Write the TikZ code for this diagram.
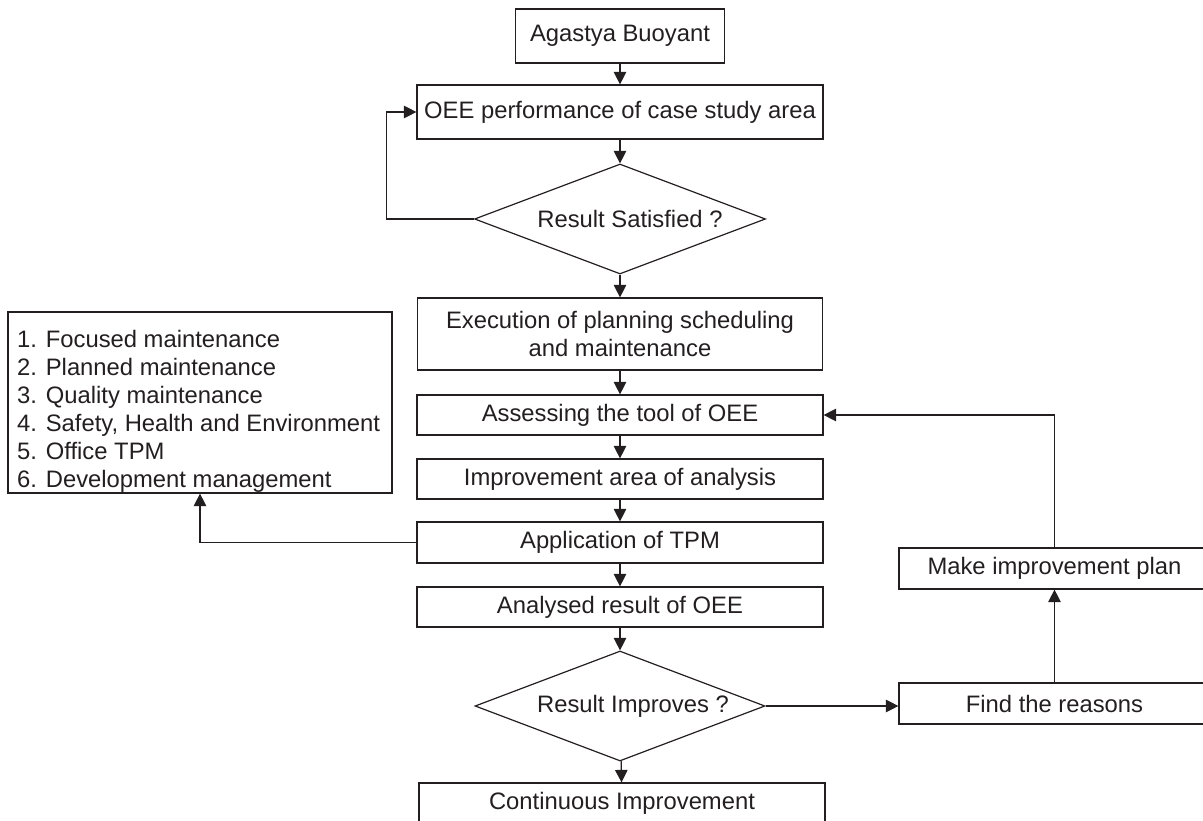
\documentclass[tikz,border=0pt]{standalone}
\usepackage{fontspec}
\setmainfont{Liberation Sans}
\usetikzlibrary{arrows.meta,shapes.geometric}
\definecolor{ink}{HTML}{231F20}
\tikzset{
  lbl/.style={font=\fontsize{23.8}{28}\selectfont, text=ink},
  box/.style={lbl, draw=ink, line width=1.2pt, rectangle, inner sep=0pt, align=center},
  decision/.style={draw=ink, line width=1.2pt, diamond, aspect=2.64, inner sep=0pt},
  arr/.style={draw=ink, line width=1.2pt, -{Triangle[length=12.5pt,width=12.5pt]}},
  ln/.style={draw=ink, line width=1.2pt}
}
\begin{document}
\begin{tikzpicture}[x=1pt,y=-1pt]
\useasboundingbox (0,0) rectangle (1203,821);

\node[box, minimum width=209pt, minimum height=54pt] (start) at (620,36) {Agastya Buoyant};
\node[box, minimum width=406pt, minimum height=54pt] (oee) at (620,112) {OEE performance of case study area};
\node[decision, minimum width=291pt, minimum height=110pt] (sat) at (620,219) {};
\node[lbl] (sattext) at (630,219) {Result Satisfied ?};
\node[box, minimum width=405pt, minimum height=72pt] (exec) at (620,334) {Execution of planning scheduling\\and maintenance};
\node[box, minimum width=406pt, minimum height=40pt] (assess) at (620,415) {Assessing the tool of OEE};
\node[box, minimum width=406pt, minimum height=40pt] (area) at (620,479) {Improvement area of analysis};
\node[box, minimum width=406pt, minimum height=41pt] (app) at (620,542.5) {Application of TPM};
\node[box, minimum width=406pt, minimum height=40pt] (analysed) at (620,607) {Analysed result of OEE};
\node[decision, minimum width=290pt, minimum height=110pt] (impr) at (620,706) {};
\node[lbl] (imprtext) at (633,706) {Result Improves ?};
\node[box, minimum width=406pt, minimum height=40pt] (cont) at (622,803) {Continuous Improvement};

\node[box, minimum width=384pt, minimum height=181pt] (list) at (200,402.5) {};
\node[lbl, align=left, anchor=north west, inner sep=0pt] (listtext) at (17,330)
  {1. Focused maintenance\\2. Planned maintenance\\3. Quality maintenance\\4. Safety, Health and Environment\\5. Office TPM\\6. Development management};

\node[box, minimum width=311pt, minimum height=41pt] (make) at (1054.5,568.5) {Make improvement plan};
\node[box, minimum width=311pt, minimum height=41pt] (find) at (1054.5,703.5) {Find the reasons};

\draw[arr] (start) -- (oee);
\draw[arr] (oee) -- (sat);
\draw[arr] (sat) -- (exec);
\draw[arr] (exec) -- (assess);
\draw[arr] (assess) -- (area);
\draw[arr] (area) -- (app);
\draw[arr] (app) -- (analysed);
\draw[arr] (analysed) -- (impr);
\draw[arr] (impr) -- (cont);

\draw[arr] (sat.west) -- ++(-87.5,0) |- (oee.west);
\draw[arr] (app.west) -| (list.south);
\draw[arr] (impr.east) -- (impr.east -| find.west);
\draw[arr] (find.north) -- (make.south);
\draw[arr] (make.north) |- (assess.east);
\end{tikzpicture}
\end{document}
